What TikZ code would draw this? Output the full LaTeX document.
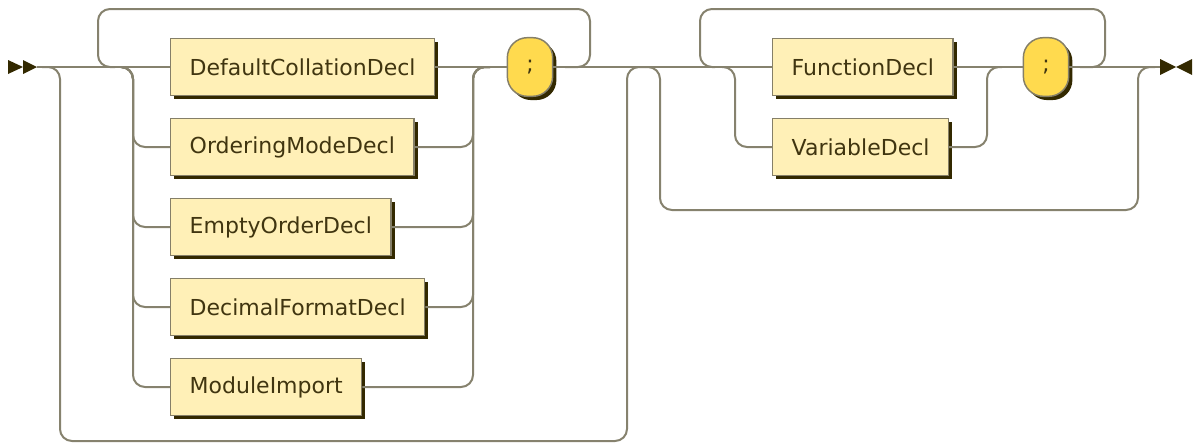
\documentclass[tikz,border=0pt]{standalone}
\usepackage{fontspec}
\setmainfont{DejaVu Sans}
\usetikzlibrary{shadows}
\definecolor{linecol}{HTML}{86826E}
\definecolor{darkcol}{HTML}{332900}
\definecolor{ntfill}{HTML}{FFF0B7}
\definecolor{tfill}{HTML}{FFDA4E}
\definecolor{bordercol}{HTML}{857F68}
\definecolor{textcol}{HTML}{403510}
\tikzset{
  boxbase/.style={draw=bordercol, line width=1.1pt, text=textcol,
    font=\fontsize{16.5}{18}\selectfont,
    drop shadow={shadow xshift=2.8pt, shadow yshift=-2.8pt, fill=darkcol, opacity=1}},
  ntbox/.style={boxbase, fill=ntfill, minimum height=42.75pt, inner xsep=14.25pt, anchor=west},
  tbox/.style={boxbase, fill=tfill, rounded corners=15pt, minimum width=34pt, minimum height=44pt, inner sep=0pt},
  rail/.style={draw=linecol, line width=1.5pt, rounded corners=9pt},
  marker/.style={fill=darkcol}
}
\begin{document}
\begin{tikzpicture}[x=0.75pt, y=-0.75pt]
\useasboundingbox (0,0) rectangle (1195,447);

% nodes
\node[ntbox] (b1) at (170,67) {DefaultCollationDecl};
\node[ntbox] (b2) at (170,147) {OrderingModeDecl};
\node[ntbox] (b3) at (170,227) {EmptyOrderDecl};
\node[ntbox] (b4) at (170,307) {DecimalFormatDecl};
\node[ntbox] (b5) at (170,387) {ModuleImport};
\node[tbox] (t1) at (530,67) {;};
\node[ntbox] (f1) at (772,67) {FunctionDecl};
\node[ntbox] (v1) at (772,147) {VariableDecl};
\node[tbox] (t2) at (1046,67) {;};

% junction coordinates
\coordinate (start) at (37,67);
\coordinate (finish) at (1160,67);
\coordinate (skipA) at (42,67);
\coordinate (hump) at (645,67);
\coordinate (loopAin) at (115,67);
\coordinate (loopAout) at (565,67);
\coordinate (chAin) at (121,67);
\coordinate (chAout) at (490,67);
\coordinate (loopBin) at (715,67);
\coordinate (loopBout) at (1080,67);
\coordinate (chBin) at (722,67);
\coordinate (chBout) at (1002,67);
\coordinate (skipB) at (1155,67);

% main line
\draw[rail] (start) -- (b1.west);
\draw[rail] (b1.east) -- (t1.west);
\draw[rail] (t1.east) -- (f1.west);
\draw[rail] (f1.east) -- (t2.west);
\draw[rail] (t2.east) -- (finish);

% bypass of first part
\draw[rail] (skipA) -| (60,441) -| (627,67) -- (hump);
% repetition loop of first part
\draw[rail] (loopAout) -| (590,9) -| (98,67) -- (loopAin);
% choice of first part
\draw[rail] (chAin) -| (133,147) -- (b2.west);
\draw[rail] (chAin) -| (133,227) -- (b3.west);
\draw[rail] (chAin) -| (133,307) -- (b4.west);
\draw[rail] (chAin) -| (133,387) -- (b5.west);
\draw[rail] (b2.east) -| (473,67) -- (chAout);
\draw[rail] (b3.east) -| (473,67) -- (chAout);
\draw[rail] (b4.east) -| (473,67) -- (chAout);
\draw[rail] (b5.east) -| (473,67) -- (chAout);

% bypass of second part
\draw[rail] (hump) -| (660,210) -| (1138,67) -- (skipB);
% repetition loop of second part
\draw[rail] (loopBout) -| (1105,9) -| (700,67) -- (loopBin);
% choice of second part
\draw[rail] (chBin) -| (735,147) -- (v1.west);
\draw[rail] (v1.east) -| (987,67) -- (chBout);

% start / end markers
\fill[marker] (8,60) -- (23,67) -- (8,74) -- cycle;
\fill[marker] (23,60) -- (37,67) -- (23,74) -- cycle;
\fill[marker] (1160,59) -- (1176,67) -- (1160,75) -- cycle;
\fill[marker] (1192,59) -- (1176,67) -- (1192,75) -- cycle;
\end{tikzpicture}
\end{document}
